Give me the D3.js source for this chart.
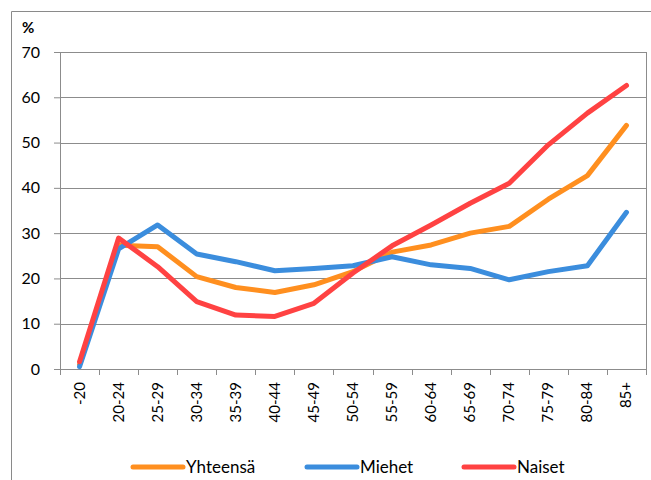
<!DOCTYPE html>
<html>
  <head>
    <meta charset="utf-8">
    <script src="https://cdn.jsdelivr.net/npm/d3@7"></script>
    <style>
      body { margin: 0; background: #fff; }
      text { font-family: Lato, "Open Sans", sans-serif; fill: #000; }
    </style>
  </head>
  <body>
    <div id="main"></div>
    <script>
      var WIDTH = 651, HEIGHT = 480;

      // Data
      var ageGroups = ["-20", "20-24", "25-29", "30-34", "35-39", "40-44", "45-49", "50-54",
                       "55-59", "60-64", "65-69", "70-74", "75-79", "80-84", "85+"];
      var yhteensa = [1.0, 27.3, 27.0, 20.4, 18.0, 16.9, 18.6, 21.5, 25.8, 27.4, 30.0, 31.5, 37.5, 42.7, 53.8];
      var miehet   = [0.5, 26.5, 31.8, 25.4, 23.7, 21.7, 22.2, 22.8, 24.8, 23.0, 22.2, 19.7, 21.5, 22.8, 34.6];
      var naiset   = [1.6, 28.9, 22.6, 14.9, 11.9, 11.6, 14.5, 21.2, 27.2, 31.8, 36.6, 41.0, 49.5, 56.5, 62.6];
      var yTicks = [0, 10, 20, 30, 40, 50, 60, 70];

      var series = [
        { name: "Yhteensä", values: yhteensa, color: "#FF8F1F" },
        { name: "Miehet",   values: miehet,   color: "#3B8DDD" },
        { name: "Naiset",   values: naiset,   color: "#FF4242" }
      ];

      var margin = { left: 60, top: 52, right: 5, bottom: 111 };
      var plotW = WIDTH - margin.left - margin.right;   // 586
      var plotH = HEIGHT - margin.top - margin.bottom;  // 317

      var svg = d3.select('#main').append('svg')
                  .attr('width', WIDTH).attr('height', HEIGHT);

      // outer frame (only top and left visible in the crop)
      svg.append('path')
        .attr('d', 'M11.5,' + HEIGHT + 'V11.5H' + WIDTH)
        .attr('fill', 'none').attr('stroke', '#8a8a8a').attr('stroke-width', 1);

      var g = svg.append('g').attr('transform', 'translate(' + margin.left + ',' + margin.top + ')');

      var x = d3.scaleBand().domain(ageGroups).range([0, plotW]);
      var y = d3.scaleLinear().domain([0, 70]).range([plotH, 0]);

      // gridlines
      g.selectAll('.grid').data(yTicks.slice(1)).enter()
        .append('line')
          .attr('x1', 0).attr('x2', plotW)
          .attr('y1', function(d) { return Math.round(y(d)) + 0.5; })
          .attr('y2', function(d) { return Math.round(y(d)) + 0.5; })
          .attr('stroke', '#8c8c8c').attr('stroke-width', 1);

      // right border of plot area
      g.append('line')
        .attr('x1', plotW + 0.5).attr('x2', plotW + 0.5)
        .attr('y1', y(70)).attr('y2', plotH)
        .attr('stroke', '#8c8c8c');

      // y axis
      var yAxis = g.append('g')
        .call(d3.axisLeft(y).tickValues(yTicks).tickSize(6).tickPadding(14));
      yAxis.select('.domain').attr('stroke', '#8c8c8c');
      yAxis.selectAll('.tick line').attr('stroke', '#8c8c8c');
      yAxis.selectAll('.tick text')
        .style('font-size', '16px').attr('fill', '#000');

      // x axis with ticks on band boundaries
      var xAxis = g.append('g').attr('transform', 'translate(0,' + plotH + ')');
      xAxis.append('line')
        .attr('x1', 0).attr('x2', plotW + 1)
        .attr('y1', 0.5).attr('y2', 0.5)
        .attr('stroke', '#8c8c8c');
      xAxis.selectAll('.xtick').data(ageGroups.concat(['end'])).enter()
        .append('line')
          .attr('x1', function(d, i) { return Math.round(i * x.step()) + 0.5; })
          .attr('x2', function(d, i) { return Math.round(i * x.step()) + 0.5; })
          .attr('y1', 0).attr('y2', 6)
          .attr('stroke', '#8c8c8c');
      xAxis.selectAll('.xlabel').data(ageGroups).enter()
        .append('text')
          .attr('transform', function(d) {
            return 'translate(' + (x(d) + x.bandwidth() / 2 + 5) + ',13) rotate(-90)';
          })
          .attr('text-anchor', 'end')
          .style('font-size', '15px')
          .text(function(d) { return d; });

      // "%" unit label
      svg.append('text')
        .attr('x', 22).attr('y', 33)
        .style('font-size', '15px').style('font-weight', 'bold')
        .text('%');

      // lines
      var line = d3.line()
        .x(function(d, i) { return x(ageGroups[i]) + x.bandwidth() / 2; })
        .y(function(d) { return y(d); });

      g.selectAll('.series').data(series).enter()
        .append('path')
          .attr('class', 'series')
          .attr('fill', 'none')
          .attr('stroke', function(s) { return s.color; })
          .attr('stroke-width', 5)
          .attr('stroke-linejoin', 'round')
          .attr('stroke-linecap', 'round')
          .attr('d', function(s) { return line(s.values); });

      // legend
      var legendX = [131, 305, 462];
      var legend = svg.selectAll('.legend').data(series).enter()
        .append('g')
          .attr('transform', function(s, i) { return 'translate(' + legendX[i] + ',467)'; });
      legend.append('line')
        .attr('x1', 2).attr('x2', 52).attr('y1', 0).attr('y2', 0)
        .attr('stroke', function(s) { return s.color; })
        .attr('stroke-width', 5).attr('stroke-linecap', 'round');
      legend.append('text')
        .attr('x', 55).attr('y', 6)
        .style('font-size', '17px')
        .text(function(s) { return s.name; });
    </script>
  </body>
</html>
